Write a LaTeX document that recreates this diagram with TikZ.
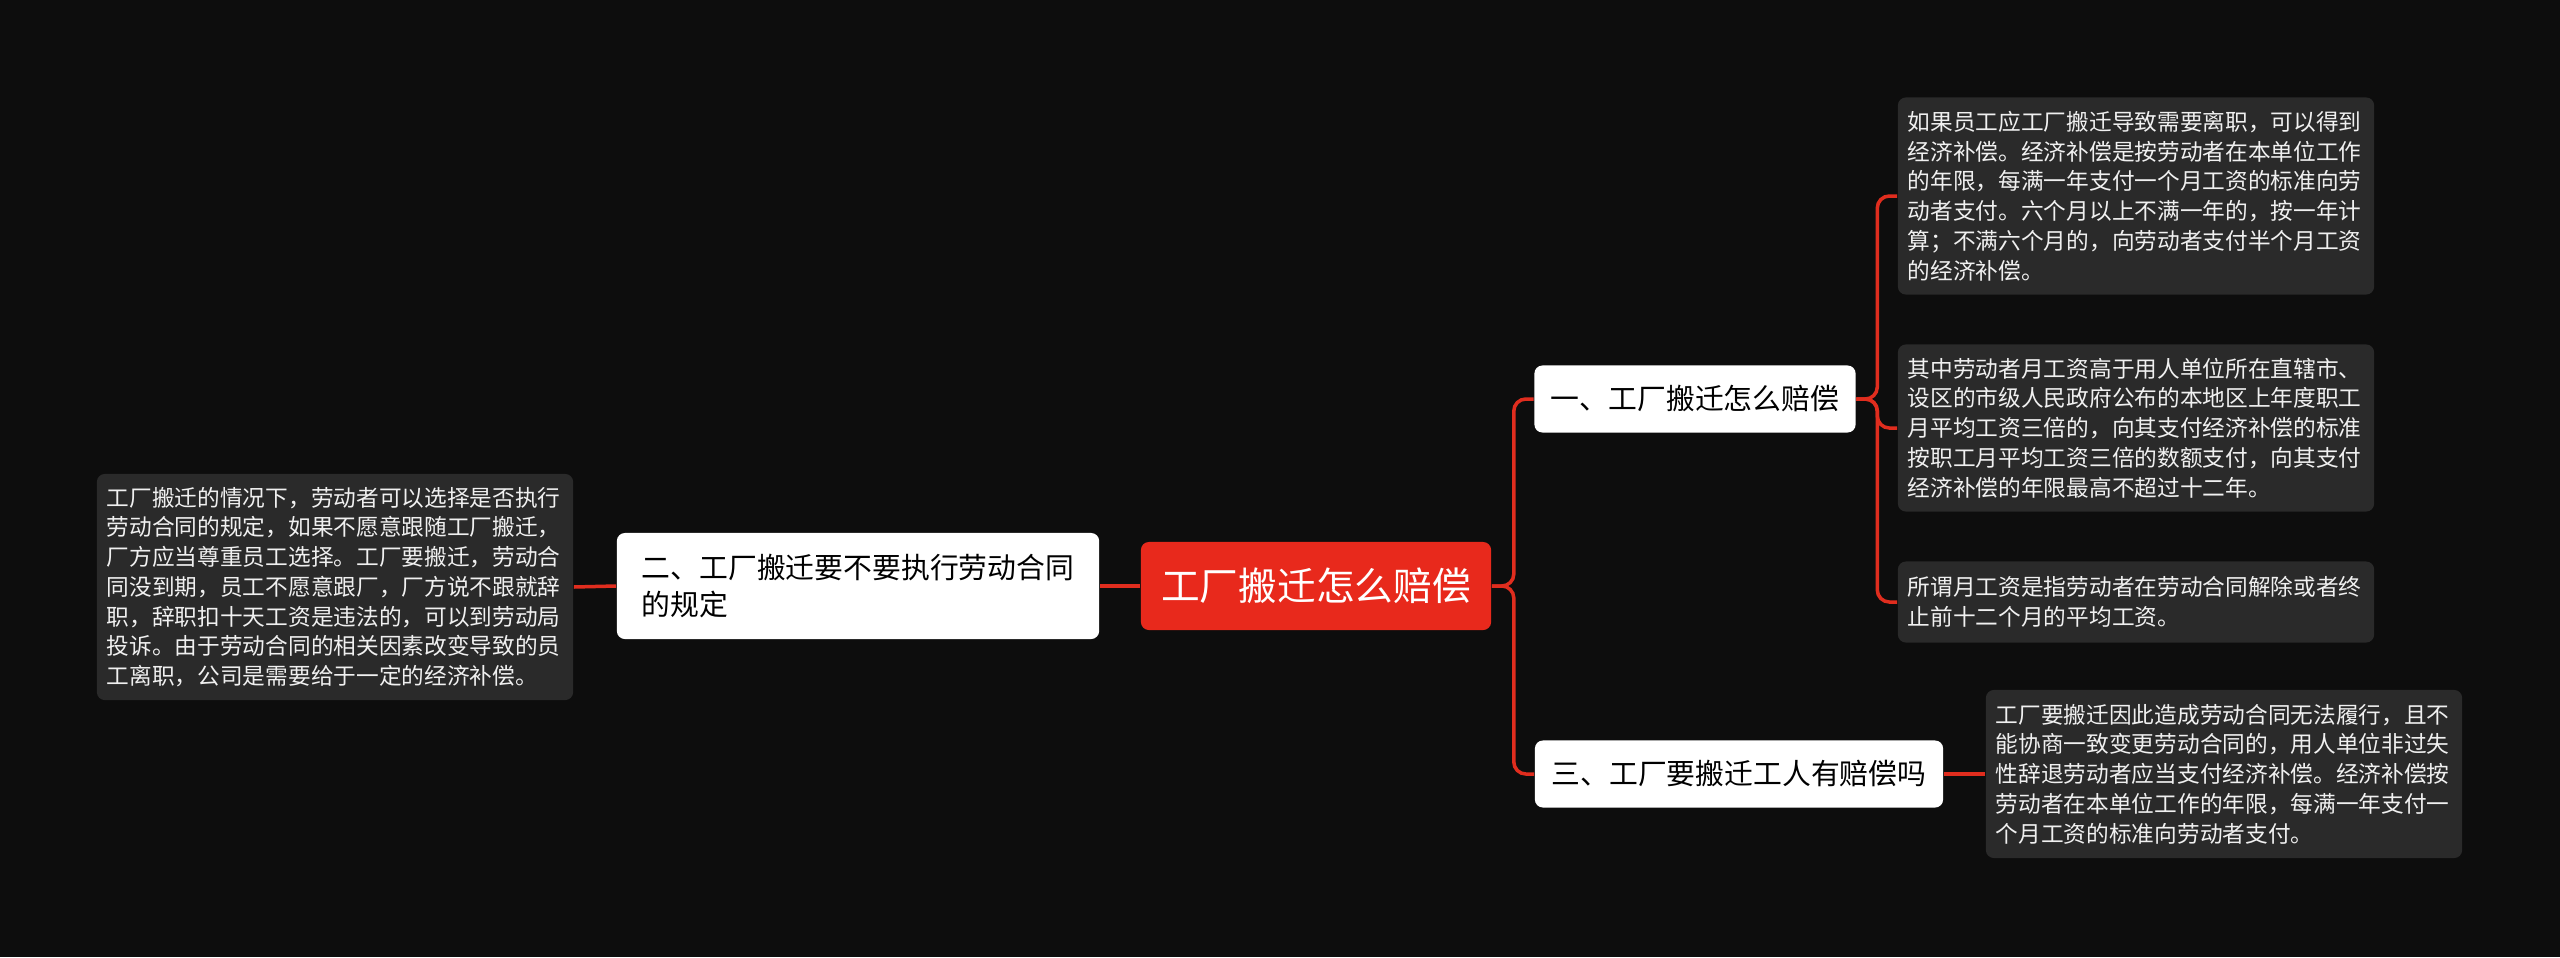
\documentclass[tikz,border=0pt]{standalone}
\usepackage{fontspec}
\newfontfamily\cjk{Noto Sans CJK SC}
\usepackage{xcolor}
\usepackage{tikz}
\usetikzlibrary{positioning,calc}
\definecolor{bgdark}{HTML}{0D0D0D}
\definecolor{leafgray}{HTML}{2A2A2A}
\definecolor{rootred}{HTML}{E8291C}
\definecolor{linkred}{HTML}{E02D1E}

\begin{document}
\begin{tikzpicture}[
  x=0.01cm,y=-0.01cm,
  rootbox/.style={fill=rootred,text=white,rounded corners=0.08cm,minimum width=3.5cm,minimum height=0.88cm,inner sep=0pt,font=\cjk\fontsize{11pt}{13pt}\selectfont},
  topic/.style={fill=white,text=black,rounded corners=0.08cm,inner xsep=0.15cm,inner ysep=0pt,align=left,font=\cjk\fontsize{8.2pt}{10.8pt}\selectfont},
  leaf/.style={fill=leafgray,text=white!94!black,rounded corners=0.08cm,text width=4.56cm,inner xsep=0.1cm,inner ysep=0pt,align=left,font=\cjk\fontsize{6.45pt}{8.45pt}\selectfont},
  link/.style={draw=linkred,line width=0.035cm,rounded corners=0.12cm}
]
\fill[bgdark] (0,0) rectangle (2560,957);
\useasboundingbox (0,0) rectangle (2560,957);

% centre and first level
\node[rootbox] (root) at (1316,586) {工厂搬迁怎么赔偿};
\node[topic,minimum width=4.82cm,minimum height=1.06cm] (t2) at (858,586) {二、工厂搬迁要不要执行劳动合同\\的规定};
\node[topic,minimum width=3.21cm,minimum height=0.67cm] (t1) at (1695,399) {一、工厂搬迁怎么赔偿};
\node[topic,minimum width=4.08cm,minimum height=0.67cm] (t3) at (1739,774) {三、工厂要搬迁工人有赔偿吗};

% leaves
\node[leaf,minimum height=2.26cm] (l1) at (335,587) {工厂搬迁的情况下，劳动者可以选择是否执行\\劳动合同的规定，如果不愿意跟随工厂搬迁，\\厂方应当尊重员工选择。工厂要搬迁，劳动合\\同没到期，员工不愿意跟厂，厂方说不跟就辞\\职，辞职扣十天工资是违法的，可以到劳动局\\投诉。由于劳动合同的相关因素改变导致的员\\工离职，公司是需要给于一定的经济补偿。};
\node[leaf,minimum height=1.97cm] (r1) at (2136,196) {如果员工应工厂搬迁导致需要离职，可以得到\\经济补偿。经济补偿是按劳动者在本单位工作\\的年限，每满一年支付一个月工资的标准向劳\\动者支付。六个月以上不满一年的，按一年计\\算；不满六个月的，向劳动者支付半个月工资\\的经济补偿。};
\node[leaf,minimum height=1.67cm] (r2) at (2136,428) {其中劳动者月工资高于用人单位所在直辖市、\\设区的市级人民政府公布的本地区上年度职工\\月平均工资三倍的，向其支付经济补偿的标准\\按职工月平均工资三倍的数额支付，向其支付\\经济补偿的年限最高不超过十二年。};
\node[leaf,minimum height=0.81cm] (r3) at (2136,602) {所谓月工资是指劳动者在劳动合同解除或者终\\止前十二个月的平均工资。};
\node[leaf,minimum height=1.68cm] (r4) at (2224,774) {工厂要搬迁因此造成劳动合同无法履行，且不\\能协商一致变更劳动合同的，用人单位非过失\\性辞退劳动者应当支付经济补偿。经济补偿按\\劳动者在本单位工作的年限，每满一年支付一\\个月工资的标准向劳动者支付。};

% connectors
\draw[link] (root.west) -- (t2.east);
\draw[link] (t2.west) -- (l1.east);
\draw[link] (root.east) -- ++(22,0) |- (t1.west);
\draw[link] (root.east) -- ++(22,0) |- (t3.west);
\draw[link] (t1.east) -- ++(21,0) |- (r1.west);
\draw[link] (t1.east) -- ++(21,0) |- (r2.west);
\draw[link] (t1.east) -- ++(21,0) |- (r3.west);
\draw[link] (t3.east) -- (r4.west);
\end{tikzpicture}
\end{document}
